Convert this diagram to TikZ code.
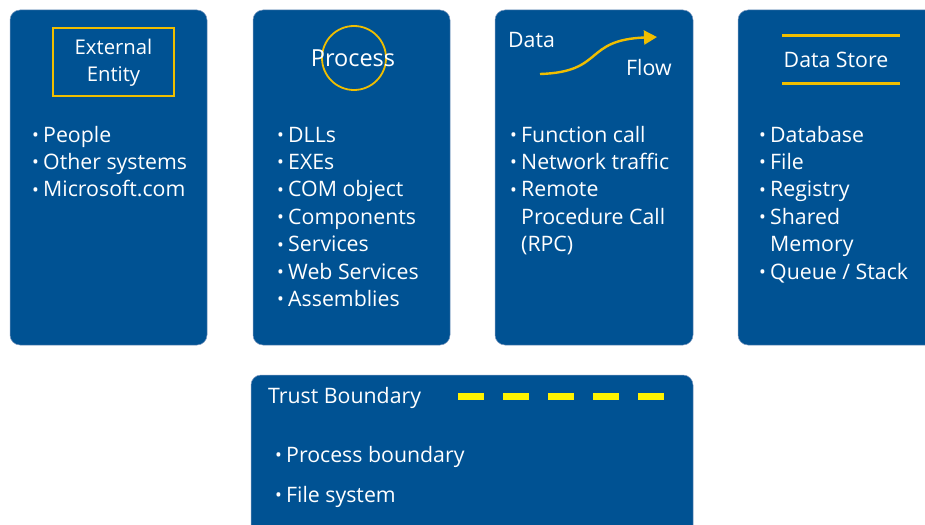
\documentclass[tikz,border=0pt]{standalone}
\usepackage{fontspec}
\setmainfont{Open Sans}
\usetikzlibrary{arrows.meta}
\definecolor{panel}{RGB}{0,82,147}
\definecolor{panelrim}{RGB}{120,150,190}
\definecolor{gold}{RGB}{240,190,0}
\definecolor{tbyellow}{RGB}{255,242,0}
\newcommand{\bul}{\makebox[11pt][l]{\raisebox{0.05ex}{\scalebox{0.85}{•}}}}
\newcommand{\hang}{\hspace*{11pt}}
\tikzset{
  panelbox/.style={fill=panel, draw=panelrim, line width=0.5pt, rounded corners=10pt},
  txt/.style={text=white, font=\fontsize{21.3}{26}\selectfont, inner sep=0pt},
  item/.style={txt, anchor=base west},
  title/.style={txt, anchor=base},
}
\begin{document}
\begin{tikzpicture}[x=1pt,y=-1pt]
  \useasboundingbox (0,0) rectangle (925,524);
  \clip (0,0) rectangle (925,524);

  % four element panels and the trust boundary panel
  \draw[panelbox] (10,10) rectangle (207,345);
  \draw[panelbox] (253,10) rectangle (450,345);
  \draw[panelbox] (495,10) rectangle (693,345);
  \draw[panelbox] (738,10) rectangle (945,345);
  \draw[panelbox] (251,375) rectangle (693,545);

  % External Entity
  \node[draw=gold, line width=2pt, minimum width=121pt, minimum height=68pt] (ee) at (113.5,62) {};
  \node[title, font=\fontsize{20.3}{24}\selectfont] (ee1) at (113.5,55) {External};
  \node[title, font=\fontsize{20.3}{24}\selectfont] (ee2) at (113.5,82) {Entity};
  \foreach \t [count=\i] in {People, Other systems, Microsoft.com}
    \node[item] (a\i) at (32,142+27.4*\i-27.4) {\bul\t};

  % Process
  \node[draw=gold, line width=1.8pt, circle, minimum size=64pt] (pc) at (354,58) {};
  \node[title, font=\fontsize{23.5}{28}\selectfont] (pt) at (353,67) {Process};
  \foreach \t [count=\i] in {DLLs, EXEs, COM object, Components, Services, Web Services, Assemblies}
    \node[item] (b\i) at (277,142+27.4*\i-27.4) {\bul\t};

  % Data Flow
  \node[txt, anchor=base west] (df1) at (508,48) {Data};
  \node[txt, anchor=base west] (df2) at (626,76) {Flow};
  \coordinate (fs) at (540,74);
  \coordinate (fe) at (657,37);
  \draw[gold, line width=2.4pt, -{Triangle[length=13pt,width=14pt]}]
    (fs) .. controls (605,72) and (583,40) .. (fe);
  \node[item] (c1) at (510,142) {\bul Function call};
  \node[item] (c2) at (510,169.4) {\bul Network traffic};
  \node[item] (c3) at (510,196.8) {\bul Remote};
  \node[item] (c4) at (510,224.2) {\hang Procedure Call};
  \node[item] (c5) at (510,251.6) {\hang (RPC)};

  % Data Store
  \draw[gold, line width=3pt] (782,36) coordinate (ds1) -- (900,36) coordinate (ds2);
  \draw[gold, line width=3pt] (782,84) coordinate (ds3) -- (900,84) coordinate (ds4);
  \node[title] (dst) at (836,68) {Data Store};
  \node[item] (d1) at (759,142) {\bul Database};
  \node[item] (d2) at (759,169.4) {\bul File};
  \node[item] (d3) at (759,196.8) {\bul Registry};
  \node[item] (d4) at (759,224.2) {\bul Shared};
  \node[item] (d5) at (759,251.6) {\hang Memory};
  \node[item] (d6) at (759,279) {\bul Queue / Stack};

  % Trust Boundary
  \node[txt, anchor=base west] (tb) at (268,403) {Trust Boundary};
  \coordinate (tbs) at (458,396);
  \coordinate (tbe) at (665,396);
  \draw[tbyellow, line width=7pt, dash pattern=on 26pt off 19pt] (tbs) -- (tbe);
  \node[item] (e1) at (275,462) {\bul Process boundary};
  \node[item] (e2) at (275,502) {\bul File system};
\end{tikzpicture}
\end{document}
